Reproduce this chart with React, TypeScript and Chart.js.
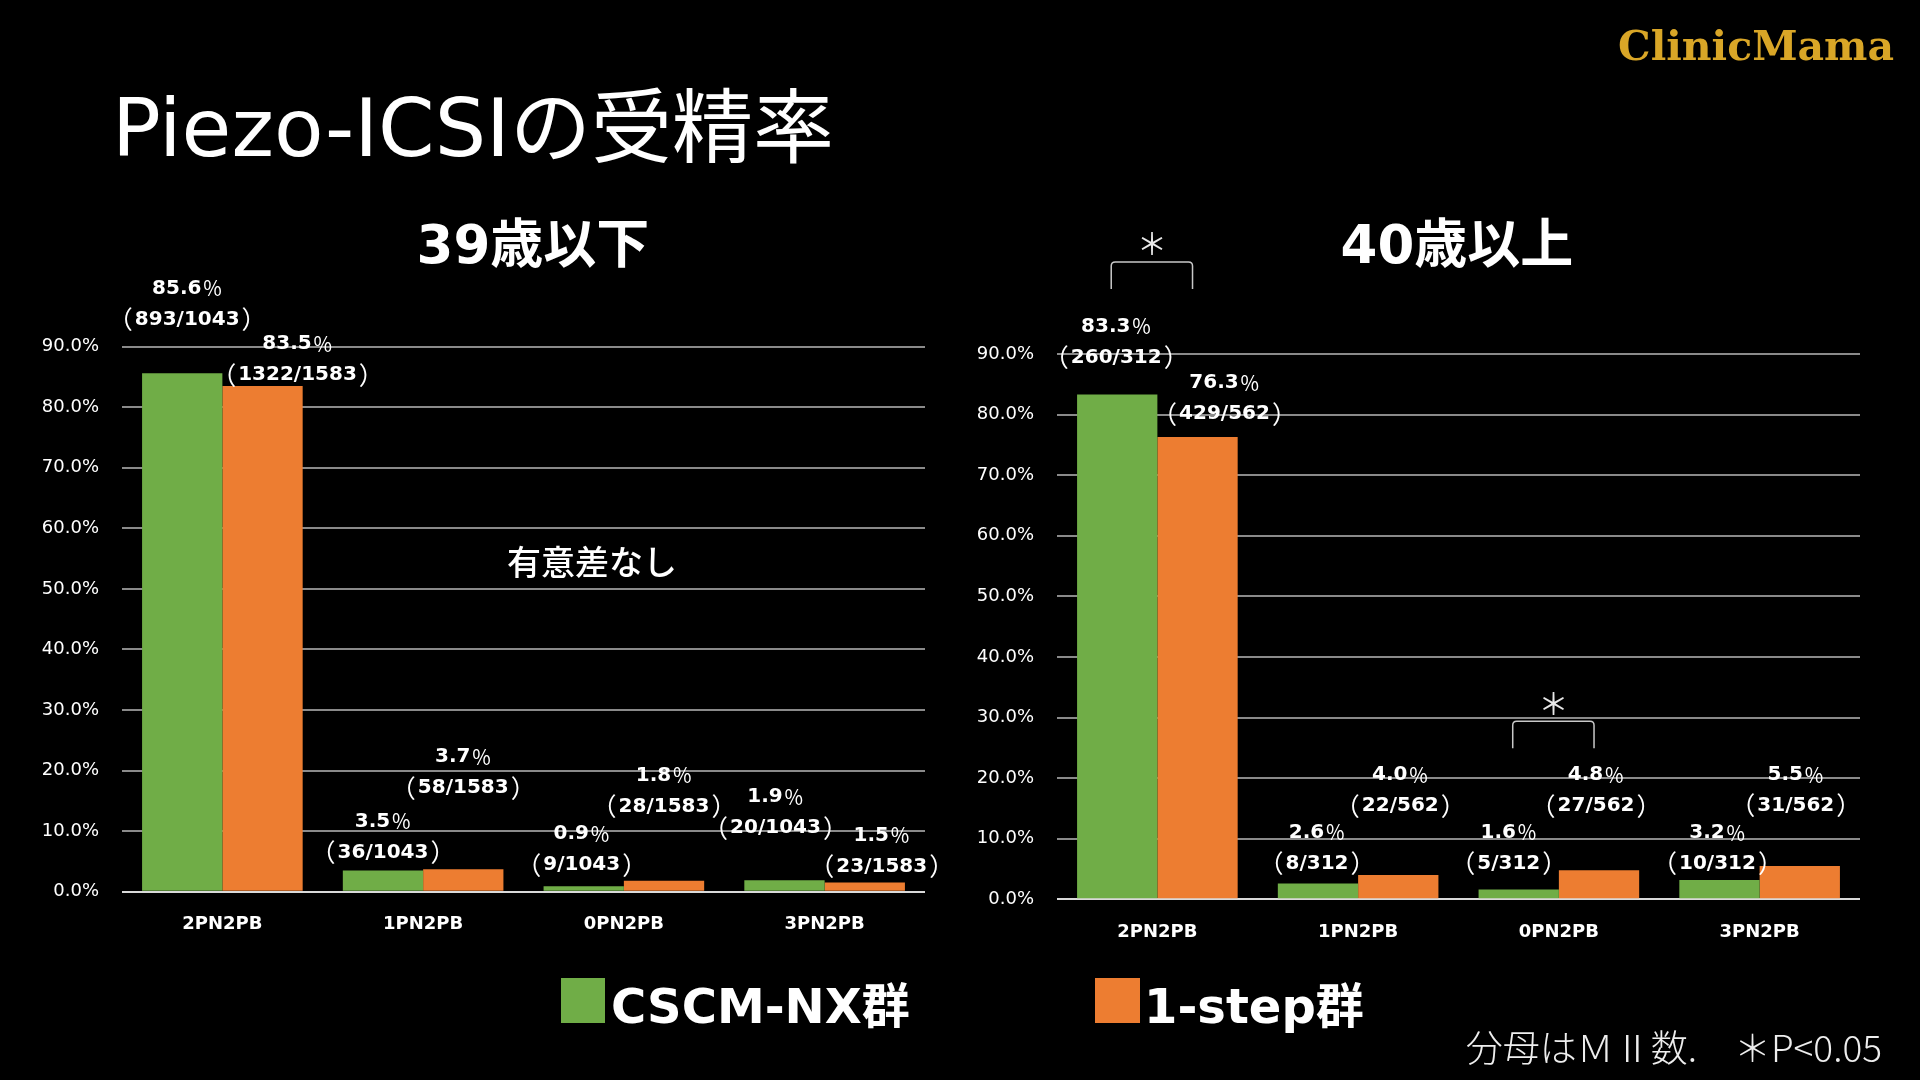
import React, { useEffect, useRef } from 'react';
import { Chart, registerables } from 'chart.js';

Chart.register(...registerables);

// ---------- data ----------
const categories = ['2PN2PB', '1PN2PB', '0PN2PB', '3PN2PB'];
const seriesNames = ['CSCM-NX群', '1-step群'];
const yTickMin = 0;
const yTickMax = 90;
const yTickStep = 10;

const under39CSCM = [85.6, 3.5, 0.9, 1.9];
const under39Step = [83.5, 3.7, 1.8, 1.5];
const under39CSCMFrac = ['893/1043', '36/1043', '9/1043', '20/1043'];
const under39StepFrac = ['1322/1583', '58/1583', '28/1583', '23/1583'];

const over40CSCM = [83.3, 2.6, 1.6, 3.2];
const over40Step = [76.3, 4.0, 4.8, 5.5];
const over40CSCMFrac = ['260/312', '8/312', '5/312', '10/312'];
const over40StepFrac = ['429/562', '22/562', '27/562', '31/562'];

// significance brackets (category index, bracket level on the y scale)
const over40Significance = [
  { index: 0, level: 105.2 },
  { index: 2, level: 29.4 },
];

// ---------- label placement (style, px offsets relative to bar top) ----------
const under39LabelOffsets = [
  [[5, 54], [0, 18], [-2, 21], [-9, 52]],
  [[35, 11], [0, 81], [0, 74], [17, 16]],
];
const over40LabelOffsets = [
  [[-1, 37], [-1, 20], [-10, 26], [-2, 16]],
  [[27, 23], [2, 69], [-3, 64], [-4, 60]],
];

const GREEN = '#70AD47';
const ORANGE = '#ED7D31';
const LATIN = "'DejaVu Sans', 'Noto Sans CJK JP', sans-serif";
const NUM_FONT = "bold 20px 'DejaVu Sans', sans-serif";
const CJK_FONT = "20px 'Noto Sans CJK JP', sans-serif";
const PAREN_FONT = "25px 'Noto Sans CJK JP', sans-serif";

type Area = { left: number; right: number; top: number; bottom: number };
type Part = [string, string, number, number]; // text, font, gap before, gap after

function drawMixed(ctx: CanvasRenderingContext2D, parts: Part[], cx: number, y: number) {
  let total = 0;
  const widths = parts.map(([t, f, a, b]) => {
    ctx.font = f;
    const w = ctx.measureText(t).width;
    total += w + a + b;
    return w;
  });
  let x = cx - total / 2;
  parts.forEach(([t, f, a, b], i) => {
    ctx.font = f;
    x += a;
    ctx.fillText(t, x, y);
    x += widths[i] + b;
  });
}

function labelPlugin(fracs: string[][], offsets: number[][][]) {
  return {
    id: 'barLabels',
    afterDatasetsDraw(chart: any) {
      const ctx = chart.ctx as CanvasRenderingContext2D;
      ctx.save();
      ctx.fillStyle = '#ffffff';
      ctx.textAlign = 'left';
      ctx.textBaseline = 'middle';
      chart.data.datasets.forEach((ds: any, di: number) => {
        const meta = chart.getDatasetMeta(di);
        meta.data.forEach((bar: any, i: number) => {
          const [dx, dy] = offsets[di][i];
          const x = bar.x + dx;
          const y2 = bar.y - dy;
          const y1 = y2 - 31;
          drawMixed(ctx, [[Number(ds.data[i]).toFixed(1), NUM_FONT, 0, 1], ['％', CJK_FONT, 0, 0]], x, y1);
          drawMixed(
            ctx,
            [
              ['（', PAREN_FONT, 0, 2],
              [fracs[di][i], NUM_FONT, 0, 0],
              ['）', PAREN_FONT, 2, 0],
            ],
            x,
            y2
          );
        });
      });
      ctx.restore();
    },
  };
}

function bracketPlugin(brackets: { index: number; level: number }[]) {
  return {
    id: 'sigBrackets',
    afterDatasetsDraw(chart: any) {
      const ctx = chart.ctx;
      const yS = chart.scales.y;
      ctx.save();
      brackets.forEach((b) => {
        const g = chart.getDatasetMeta(0).data[b.index];
        const o = chart.getDatasetMeta(1).data[b.index];
        const x1 = g.x - 6;
        const x2 = o.x - 5;
        const yTop = yS.getPixelForValue(b.level);
        const yBot = yTop + 27;
        const r = 4;
        ctx.strokeStyle = '#c8c8c8';
        ctx.lineWidth = 1.5;
        ctx.beginPath();
        ctx.moveTo(x1, yBot);
        ctx.lineTo(x1, yTop + r);
        ctx.quadraticCurveTo(x1, yTop, x1 + r, yTop);
        ctx.lineTo(x2 - r, yTop);
        ctx.quadraticCurveTo(x2, yTop, x2, yTop + r);
        ctx.lineTo(x2, yBot);
        ctx.stroke();
        ctx.fillStyle = '#e8e8e8';
        ctx.font = "30px 'Noto Sans CJK JP', sans-serif";
        ctx.textAlign = 'center';
        ctx.textBaseline = 'middle';
        ctx.fillText('＊', (x1 + x2) / 2, yTop - 18);
      });
      ctx.restore();
    },
  };
}

function BarPanel(props: {
  left: number;
  green: number[];
  orange: number[];
  fracs: string[][];
  offsets: number[][][];
  area: Area;
  brackets?: { index: number; level: number }[];
}) {
  const ref = useRef<HTMLCanvasElement>(null);
  useEffect(() => {
    const { area } = props;
    const plugins: any[] = [labelPlugin(props.fracs, props.offsets)];
    if (props.brackets) plugins.push(bracketPlugin(props.brackets));
    const xAxisH = 60;
    const chart = new Chart(ref.current as HTMLCanvasElement, {
      type: 'bar',
      data: {
        labels: categories,
        datasets: [
          { label: seriesNames[0], data: props.green, backgroundColor: GREEN, borderWidth: 0 },
          { label: seriesNames[1], data: props.orange, backgroundColor: ORANGE, borderWidth: 0 },
        ],
      },
      options: {
        responsive: false,
        animation: false,
        events: [],
        layout: {
          padding: {
            left: 0,
            right: 960 - area.right,
            top: area.top,
            bottom: 1080 - area.bottom - xAxisH,
          },
        },
        datasets: { bar: { categoryPercentage: 0.8, barPercentage: 1.0 } },
        plugins: { legend: { display: false }, tooltip: { enabled: false } },
        scales: {
          x: {
            grid: { display: false },
            border: { display: false },
            ticks: {
              color: '#ffffff',
              font: { family: LATIN, size: 18, weight: 'bold' },
              padding: 14,
            },
            afterFit: (s: any) => {
              s.height = xAxisH;
            },
          },
          y: {
            min: yTickMin,
            max: yTickMax,
            afterFit: (s: any) => {
              s.width = area.left;
            },
            border: { display: false },
            grid: {
              drawTicks: false,
              lineWidth: 2,
              color: (c: any) => (c.tick && c.tick.value === 0 ? '#d9d9d9' : '#8a8a8a'),
            },
            ticks: {
              stepSize: yTickStep,
              color: '#ffffff',
              font: { family: LATIN, size: 18 },
              padding: 23,
              callback: (v: any) => `${Number(v).toFixed(1)}%`,
            },
          },
        },
      } as any,
      plugins,
    });
    return () => chart.destroy();
  }, []);
  return (
    <canvas
      ref={ref}
      width={960}
      height={1080}
      style={{ position: 'absolute', left: props.left, top: 0, width: 960, height: 1080 }}
    />
  );
}

const txt = (extra: React.CSSProperties): React.CSSProperties => ({
  position: 'absolute',
  whiteSpace: 'nowrap',
  lineHeight: 1,
  color: '#ffffff',
  fontFamily: LATIN,
  ...extra,
});

export default function App() {
  return (
    <div
      style={{
        position: 'fixed',
        left: 0,
        top: 0,
        width: 1920,
        height: 1080,
        background: '#000000',
        overflow: 'hidden',
      }}
    >
      <BarPanel
        left={0}
        green={under39CSCM}
        orange={under39Step}
        fracs={[under39CSCMFrac, under39StepFrac]}
        offsets={under39LabelOffsets}
        area={{ left: 122, right: 925, top: 346.7, bottom: 891.7 }}
      />
      <BarPanel
        left={960}
        green={over40CSCM}
        orange={over40Step}
        fracs={[over40CSCMFrac, over40StepFrac]}
        offsets={over40LabelOffsets}
        area={{ left: 97, right: 900, top: 354, bottom: 899.3 }}
        brackets={over40Significance}
      />

      <div style={txt({ left: 112, top: 88, fontSize: 81 })}>Piezo-ICSIの受精率</div>
      <div
        style={txt({
          left: 1618,
          top: 26,
          fontSize: 41,
          fontWeight: 'bold',
          fontFamily: "'DejaVu Serif', serif",
          color: '#D9A627',
        })}
      >
        ClinicMama
      </div>

      <div style={txt({ left: 533, top: 218, fontSize: 53, fontWeight: 'bold', transform: 'translateX(-50%)' })}>
        39歳以下
      </div>
      <div style={txt({ left: 1457, top: 218, fontSize: 53, fontWeight: 'bold', transform: 'translateX(-50%)' })}>
        40歳以上
      </div>

      <div
        style={txt({
          left: 592,
          top: 544,
          fontSize: 34,
          fontWeight: 500,
          fontFamily: "'Noto Sans CJK JP', sans-serif",
          transform: 'translateX(-50%)',
        })}
      >
        有意差なし
      </div>

      <div style={{ position: 'absolute', left: 561, top: 978, width: 44, height: 45, background: GREEN }} />
      <div style={txt({ left: 611, top: 982, fontSize: 48, fontWeight: 'bold' })}>{seriesNames[0]}</div>
      <div style={{ position: 'absolute', left: 1095, top: 978, width: 45, height: 45, background: ORANGE }} />
      <div style={txt({ left: 1144, top: 982, fontSize: 48, fontWeight: 'bold' })}>{seriesNames[1]}</div>

      <div
        style={txt({
          right: 38,
          top: 1028,
          fontSize: 37,
          fontWeight: 300,
          color: '#eeeeee',
          fontFamily: "'Noto Sans CJK JP', sans-serif",
        })}
      >
        分母はＭⅡ数.　＊P&lt;0.05
      </div>
    </div>
  );
}
